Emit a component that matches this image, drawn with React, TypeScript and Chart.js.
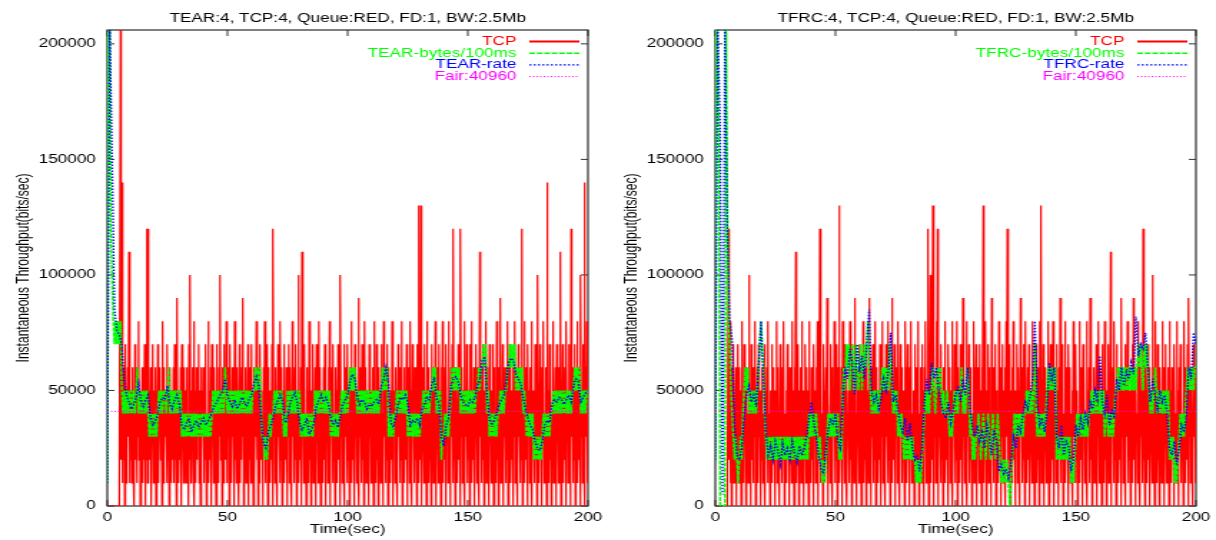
import React, { useEffect, useRef } from 'react';
import { Chart, registerables } from 'chart.js';

Chart.register(...registerables);

// ---- sampling / units ----
const TCP_STEP = 0.25; // seconds between TCP samples
const BYTES_STEP = 0.5; // seconds between bytes/100ms samples
const RATE_STEP = 1; // seconds between rate samples
const LEVEL = 10000; // bits/sec per unit in TCP and bytes arrays
const RATE_UNIT = 1000; // bits/sec per unit in rate arrays
const FAIR = 40960;
const X_MAX = 200;
const Y_MAX = 206000;
const X_TICKS = [0, 50, 100, 150, 200];
const Y_TICKS = [0, 50000, 100000, 150000, 200000];

const TITLE_TEAR = 'TEAR:4, TCP:4, Queue:RED, FD:1, BW:2.5Mb';
const TITLE_TFRC = 'TFRC:4, TCP:4, Queue:RED, FD:1, BW:2.5Mb';
const LEGEND_TEAR = ['TCP', 'TEAR-bytes/100ms', 'TEAR-rate', 'Fair:40960'];
const LEGEND_TFRC = ['TCP', 'TFRC-bytes/100ms', 'TFRC-rate', 'Fair:40960'];
const X_TITLE = 'Time(sec)';
const Y_TITLE = 'Instantaneous Throughput(bits/sec)';

// ---- left panel (TEAR) ----
const tcpTear = [
  0,0,0,0,0,0,0,0,0,0, 0,0,0,0,0,0,0,0,0,0, 0,0,21,2,14,1,5,2,6,0, 7,1,4,2,6,3,11,1,5,2,
  5,1,6,2,4,0,7,2,5,1, 6,3,8,2,5,0,4,2,6,1, 5,2,7,0,6,2,12,1,12,3, 5,2,6,0,4,3,7,1,5,2,
  6,0,5,2,7,1,4,3,6,2, 5,0,8,1,6,2,5,3,4,1, 7,2,5,0,6,3,4,1,5,2, 6,1,7,2,5,0,9,2,4,1,
  5,2,6,0,7,3,4,1,6,2, 5,1,6,3,4,0,7,2,10,1, 5,3,6,2,8,0,5,1,6,2, 4,3,7,1,5,0,6,2,5,3,
  6,1,5,2,7,0,4,3,8,1, 5,2,6,0,7,3,5,1,6,2, 4,0,7,2,5,1,6,3,10,2, 5,0,6,1,7,3,4,2,8,1,
  5,3,6,0,7,2,4,1,6,3, 5,0,8,2,5,1,6,3,4,0, 7,1,5,2,6,3,9,0,5,2, 6,1,4,3,7,0,5,2,6,1,
  7,2,5,0,6,1,4,3,8,2, 5,0,6,1,7,3,5,2,4,0, 6,3,8,1,5,2,7,0,6,3, 5,1,4,2,7,0,12,3,5,1,
  6,2,5,0,7,3,4,1,8,2, 6,0,5,3,7,1,4,2,6,0, 5,3,7,1,6,2,4,0,8,3, 5,1,6,2,7,0,5,3,10,1,
  5,2,6,0,11,3,5,1,7,2, 4,0,6,3,5,1,8,2,6,0, 5,3,7,1,4,2,6,0,7,3, 5,1,8,2,6,0,5,3,4,1,
  6,2,7,0,5,3,4,1,6,2, 8,0,5,3,6,1,7,2,4,0, 6,3,5,1,7,2,6,0,10,3, 5,1,4,2,7,0,6,3,5,1,
  7,2,5,0,6,3,8,1,5,2, 4,0,7,3,6,1,5,2,9,0, 6,3,4,1,7,2,5,0,8,3, 6,1,5,2,4,0,7,3,6,1,
  5,2,6,0,8,3,4,1,7,2, 5,0,6,3,5,1,7,2,4,0, 8,3,6,1,5,2,7,0,6,3, 4,1,5,2,8,0,6,3,5,1,
  6,2,4,0,7,3,5,1,6,2, 8,0,5,3,6,1,4,2,7,0, 5,3,6,1,8,2,5,0,7,3, 4,1,6,2,5,0,7,3,13,1,
  5,2,13,0,6,3,4,1,7,2, 5,0,8,3,6,1,5,2,4,0, 7,3,6,1,5,2,8,0,4,3, 6,1,7,2,5,0,6,3,8,1,
  5,2,6,0,7,3,4,1,8,2, 5,0,6,3,7,1,12,2,5,0, 6,3,4,1,7,2,5,0,12,3, 6,1,5,2,8,0,4,3,7,1,
  6,2,5,0,7,3,8,1,4,2, 6,0,5,3,7,1,6,2,4,0, 11,3,5,1,6,2,7,0,5,3, 8,1,6,2,4,0,7,3,5,1,
  5,2,7,0,6,3,4,1,8,2, 5,0,6,3,9,1,5,2,7,0, 4,3,6,1,5,2,8,0,6,3, 7,1,5,2,4,0,6,3,8,1,
  6,2,5,0,7,3,4,1,6,2, 12,0,5,3,8,1,6,2,4,0, 7,3,5,1,6,2,8,0,5,3, 4,1,7,2,6,0,10,3,5,1,
  7,2,5,0,6,3,8,1,4,2, 6,0,14,3,5,1,7,2,6,0, 4,3,8,1,5,2,6,0,7,3, 5,1,6,2,11,0,5,3,7,1,
  5,2,6,0,8,3,4,1,7,2, 5,0,12,3,6,1,4,2,7,0, 5,3,8,1,6,2,4,0,10,3, 5,1,7,2,14,0,6,3,8,1,
  5,
];

const bytesTear = [
  1,21,21,12,10,8,7,8,7,8,7,8,5,4,5,4,5,4,5,4,
  5,4,5,4,5,6,4,5,4,5,4,5,4,5,4,3,4,3,4,3,
  4,3,4,5,4,5,4,5,5,4,5,6,4,5,4,5,4,5,4,5,
  4,5,3,4,3,4,3,4,3,4,3,4,3,4,3,4,3,4,3,4,
  3,4,3,4,3,4,3,4,5,4,5,4,5,4,5,4,5,4,6,5,
  4,5,4,5,4,5,4,5,4,5,4,5,4,5,4,5,4,5,4,5,
  4,5,5,6,5,6,5,6,4,3,3,2,3,2,3,4,3,4,4,5,
  4,5,4,5,4,5,4,3,4,3,5,4,5,4,5,4,5,4,5,4,
  5,3,4,3,4,3,4,3,4,3,4,3,4,5,4,5,4,5,4,5,
  4,5,4,5,4,5,3,4,3,4,3,4,3,4,4,5,4,5,4,5,
  4,5,6,5,6,5,6,5,4,5,4,5,4,5,4,5,4,5,4,5,
  4,5,4,5,4,5,4,5,5,6,5,6,5,6,3,4,3,4,3,4,
  4,5,4,5,4,5,4,5,4,5,3,4,3,4,3,4,3,4,3,4,
  3,4,4,5,4,5,4,5,4,5,5,6,5,6,4,5,4,5,2,3,
  3,4,3,4,3,4,5,6,5,6,5,6,5,6,4,5,4,5,4,5,
  4,5,4,5,4,5,4,5,5,6,5,6,6,7,6,7,4,5,3,4,
  3,4,3,4,3,4,4,5,4,5,4,5,5,6,6,7,6,7,6,7,
  5,6,5,6,5,6,4,5,4,3,4,3,4,3,4,2,3,2,3,2,
  3,2,3,4,3,4,3,4,3,4,4,5,4,5,4,5,4,5,4,5,
  4,5,4,5,4,5,4,5,5,6,5,6,5,6,4,5,4,5,4,5,
  5,
];

const rateTear = [
  10,210,150,85,76,74,70,55,48,45,
  42,44,47,53,45,43,46,48,38,35,
  37,40,45,47,46,52,44,42,46,48,
  44,35,33,36,38,32,35,37,34,36,
  38,35,37,39,42,44,46,48,50,55,
  48,45,43,46,42,44,47,45,43,46,
  48,53,56,52,38,27,25,32,35,38,
  43,46,48,45,36,38,44,47,49,45,
  36,33,35,38,31,33,36,43,46,48,
  45,47,44,38,35,37,34,39,44,46,
  48,54,57,55,47,44,46,45,42,44,
  43,45,46,44,52,55,60,53,36,34,
  38,44,47,46,48,45,35,37,36,38,
  35,42,44,47,46,53,55,47,44,30,
  26,35,38,52,55,56,54,48,45,44,
  43,46,45,47,52,55,63,64,48,38,
  35,37,40,44,46,48,54,62,64,63,
  57,55,53,47,42,38,35,33,28,25,
  24,28,35,37,36,44,46,45,47,46,
  44,46,48,45,52,55,54,45,47,49,
  50,
];

// ---- right panel (TFRC) ----
const tcpTfrc = [
  0,0,0,0,0,0,0,0,0,0, 0,0,0,0,0,0,0,0,0,0, 0,0,12,2,8,1,5,0,6,3, 7,1,4,2,6,0,5,2,7,1,
  6,3,5,0,8,2,4,1,7,3, 5,0,6,2,4,1,10,3,5,0, 7,2,6,1,4,3,8,0,5,2, 6,1,7,3,4,0,5,2,6,1,
  4,2,7,0,5,3,6,1,8,2, 4,0,5,3,7,1,6,2,4,0, 5,3,8,1,6,2,4,0,7,3, 5,1,6,2,8,0,4,3,5,1,
  7,2,5,0,6,3,4,1,8,2, 5,0,6,3,11,1,4,2,7,0, 5,3,6,1,8,2,5,0,4,3, 7,1,6,2,5,0,8,3,4,1,
  6,2,4,0,7,3,5,1,6,2, 8,0,5,3,12,1,6,2,4,0, 7,3,5,1,6,2,9,0,5,3, 4,1,7,2,6,0,5,3,8,1,
  5,2,7,0,6,3,13,1,4,2, 6,0,8,3,5,1,7,2,6,0, 4,3,5,1,8,2,6,0,7,3, 5,1,9,2,4,0,6,3,5,1,
  7,2,6,0,5,3,8,1,4,2, 6,0,7,3,5,1,9,2,6,0, 4,3,7,1,5,2,8,0,6,3, 5,1,4,2,7,0,6,3,8,1,
  5,2,6,0,7,3,4,1,8,2, 5,0,6,3,9,1,5,2,7,0, 4,3,6,1,8,2,5,0,7,3, 6,1,5,2,4,0,8,3,6,1,
  7,2,5,0,6,3,8,1,4,2, 5,0,7,3,6,1,5,2,8,0, 4,3,6,1,7,2,5,0,6,3, 8,1,5,2,12,0,7,3,10,1,
  6,2,13,0,7,3,5,1,8,2, 12,0,6,3,4,1,7,2,5,0, 6,3,8,1,5,2,4,0,7,3, 6,1,5,2,8,0,4,3,7,1,
  5,2,8,0,6,3,4,1,7,2, 5,0,9,3,6,1,4,2,8,0, 5,3,7,1,6,2,5,0,4,3, 8,1,6,2,7,0,5,3,6,1,
  7,2,5,0,6,3,13,1,4,2, 8,0,5,3,7,1,6,2,4,0, 9,3,5,1,6,2,7,0,5,3, 4,1,8,2,6,0,5,3,7,1,
  5,2,6,0,8,3,12,1,4,2, 7,0,5,3,6,1,8,2,5,0, 4,3,7,1,6,2,5,0,9,3, 6,1,4,2,7,0,8,3,5,1,
  6,2,7,0,5,3,4,1,8,2, 6,0,5,3,7,1,4,2,6,0, 8,3,13,1,5,2,7,0,6,3, 4,1,5,2,8,0,6,3,7,1,
  5,2,8,0,6,3,4,1,7,2, 5,0,6,3,9,1,5,2,7,0, 4,3,8,1,6,2,5,0,7,3, 6,1,4,2,5,0,8,3,6,1,
  7,2,5,0,4,3,8,1,6,2, 5,0,7,3,6,1,4,2,8,0, 5,3,6,1,9,2,7,0,4,3, 6,1,5,2,7,0,5,3,8,1,
  6,2,4,0,7,3,5,1,8,2, 6,0,5,3,7,1,4,2,11,0, 5,3,6,1,8,2,5,0,7,3, 4,1,6,2,5,0,9,3,6,1,
  5,2,7,0,6,3,8,1,4,2, 5,0,6,3,7,1,9,2,5,0, 6,3,4,1,8,2,7,0,5,3, 6,1,12,2,4,0,7,3,5,1,
  7,2,6,0,5,3,4,1,10,2, 6,0,8,3,5,1,7,2,4,0, 6,3,5,1,8,2,6,0,4,3, 7,1,5,2,6,0,8,3,5,1,
  6,2,5,0,7,3,4,1,8,2, 5,0,6,3,7,1,5,2,4,0, 8,3,6,1,5,2,7,0,9,3, 5,1,6,2,4,0,7,3,6,1,
  3,
];

const bytesTfrc = [
  2,21,19,16,0,0,0,0,0,21,13,8,7,5,4,3,2,3,2,1,
  2,3,2,4,5,6,5,6,4,5,4,5,4,5,4,5,6,7,8,7,
  6,4,3,2,3,2,3,2,3,2,3,2,3,2,3,2,3,2,3,2,
  3,2,3,2,3,2,3,2,3,2,3,2,3,2,3,2,3,2,4,3,
  4,3,4,3,4,3,2,3,2,1,2,1,2,3,4,3,4,3,4,3,
  4,3,4,2,3,2,5,6,5,7,6,7,5,6,7,6,5,7,6,5,
  6,7,5,6,7,6,7,8,6,5,4,5,4,5,4,5,4,5,5,6,
  5,6,5,6,5,7,6,5,4,5,4,5,3,4,3,4,3,2,3,2,
  3,2,3,2,3,2,2,1,2,1,2,1,2,3,4,5,4,5,4,5,
  5,6,5,4,5,6,5,6,5,4,5,4,4,5,4,3,4,3,4,5,
  4,5,4,5,5,6,4,5,4,5,6,5,3,4,2,3,2,3,3,4,
  3,2,3,4,3,2,3,4,3,2,3,4,3,2,3,4,3,2,1,2,
  1,2,1,2,1,0,1,2,3,4,3,4,3,4,3,4,3,4,4,5,
  4,5,4,5,4,5,7,4,3,4,3,4,3,4,3,4,5,6,5,6,
  5,6,5,6,2,3,2,3,2,3,2,3,2,3,2,3,1,2,1,2,
  3,4,3,4,3,4,3,4,3,4,3,4,4,5,4,5,4,5,4,5,
  4,5,4,5,3,4,4,3,4,3,4,3,4,5,5,6,5,6,5,6,
  5,6,5,6,5,6,5,6,5,6,5,6,7,6,7,6,5,7,6,7,
  6,5,4,5,4,5,6,5,4,5,4,5,4,5,4,5,4,5,2,3,
  2,3,1,2,1,2,3,4,3,4,3,4,5,6,5,6,5,6,5,6,
  6,
];

const rateTfrc = [
  20,210,165,5,210,120,80,72,35,22,
  20,25,38,48,52,45,48,43,60,80,
  55,33,22,26,20,28,24,18,27,22,
  25,20,28,23,19,26,22,25,30,38,
  45,36,30,22,16,14,25,33,38,35,
  40,28,25,45,60,55,68,62,48,70,
  58,65,55,70,85,50,45,48,42,46,
  55,50,58,75,45,48,42,35,32,38,
  28,36,25,20,22,15,25,45,55,48,
  62,55,60,50,44,40,38,45,36,42,
  48,52,45,55,48,60,42,34,30,35,
  28,32,25,35,30,22,33,28,15,18,
  14,16,12,18,30,25,35,32,40,45,
  42,48,55,80,45,35,38,32,40,62,
  55,60,30,25,35,22,28,26,15,20,
  35,30,38,33,40,36,45,42,50,46,
  65,45,40,48,35,42,38,55,50,60,
  52,58,55,62,57,82,65,70,68,75,
  60,45,55,48,42,50,45,48,40,25,
  22,28,18,25,35,32,38,60,55,75,
  70,
];

// ---- styling ----
const FONT = '"Liberation Sans", Arial, Helvetica, sans-serif';
const CANVAS_W = 425; // drawn narrow, displayed stretched like the gnuplot output
const CANVAS_H = 540;
const DISPLAY_W = 608;
const COLORS = ['#ff0000', '#00ff00', '#0000ff', '#ff00ff'];
const DASHES: number[][] = [[], [4, 1.2], [1.5, 1.5], [1, 1.5]];
const WIDTHS = [1.2, 1.5, 1.3, 1];
const LEGEND_WIDTHS = [1.8, 1.5, 1.3, 1];

const series = (vals: number[], step: number, unit: number) =>
  vals.map((v, i) => ({ x: i * step, y: v * unit }));

const framePlugin = {
  id: 'gpFrame',
  beforeDatasetsDraw(chart: any) {
    const { ctx, chartArea: a, scales } = chart;
    ctx.save();
    ctx.strokeStyle = '#000';
    ctx.lineWidth = 1;
    ctx.strokeRect(a.left, a.top, a.right - a.left, a.bottom - a.top);
    ctx.strokeStyle = '#333';
    const seg = (x1: number, y1: number, x2: number, y2: number) => {
      ctx.beginPath();
      ctx.moveTo(x1, y1);
      ctx.lineTo(x2, y2);
      ctx.stroke();
    };
    for (const v of Y_TICKS) {
      const y = scales.y.getPixelForValue(v);
      seg(a.left, y, a.left + 5, y);
      seg(a.right - 5, y, a.right, y);
    }
    for (const v of X_TICKS) {
      const x = scales.x.getPixelForValue(v);
      seg(x, a.bottom, x, a.bottom - 6);
      seg(x, a.top, x, a.top + 6);
    }
    ctx.restore();
  },
};

const legendPlugin = {
  id: 'gpLegend',
  afterDatasetsDraw(chart: any, _args: any, opts: any) {
    const { ctx } = chart;
    const names: string[] = opts.names || [];
    names.forEach((name, i) => {
      const y = 41.5 + i * 11.7;
      ctx.save();
      ctx.font = `12px ${FONT}`;
      ctx.textAlign = 'right';
      ctx.textBaseline = 'middle';
      ctx.fillStyle = COLORS[i];
      ctx.fillText(name, 361, y);
      ctx.setLineDash(DASHES[i]);
      ctx.lineWidth = LEGEND_WIDTHS[i];
      ctx.strokeStyle = COLORS[i];
      ctx.beginPath();
      ctx.moveTo(370, y);
      ctx.lineTo(405, y);
      ctx.stroke();
      ctx.restore();
    });
  },
};

type PanelProps = {
  title: string;
  names: string[];
  tcp: number[];
  bytes: number[];
  rate: number[];
};

function Panel({ title, names, tcp, bytes, rate }: PanelProps) {
  const ref = useRef<HTMLCanvasElement>(null);
  useEffect(() => {
    const canvas = ref.current;
    if (!canvas) return;
    const data = [
      series(tcp, TCP_STEP, LEVEL),
      series(bytes, BYTES_STEP, LEVEL),
      series(rate, RATE_STEP, RATE_UNIT),
      [
        { x: 0, y: FAIR },
        { x: X_MAX, y: FAIR },
      ],
    ];
    const chart = new Chart(canvas, {
      type: 'line',
      data: {
        datasets: data.map((d, i) => ({
          label: names[i],
          data: d,
          borderColor: COLORS[i],
          backgroundColor: COLORS[i],
          borderWidth: WIDTHS[i],
          borderDash: DASHES[i],
          pointRadius: 0,
          tension: 0,
          fill: false,
          order: 4 - i,
        })),
      },
      options: {
        responsive: false,
        devicePixelRatio: 1,
        animation: false,
        events: [],
        layout: { padding: { left: 0, right: 10.5, top: 0, bottom: 0 } },
        plugins: {
          legend: { display: false },
          tooltip: { enabled: false },
          title: {
            display: true,
            text: title,
            fullSize: false,
            color: '#000',
            font: { family: FONT, size: 12, weight: 'normal' },
            padding: { top: 11, bottom: 4.6 },
          },
          gpLegend: { names },
        } as any,
        scales: {
          x: {
            type: 'linear',
            min: 0,
            max: X_MAX,
            afterFit: (s: any) => {
              s.height = 34;
            },
            afterBuildTicks: (s: any) => {
              s.ticks = X_TICKS.map((v) => ({ value: v }));
            },
            grid: { display: false, drawTicks: false },
            border: { display: false },
            ticks: {
              color: '#000',
              font: { family: FONT, size: 12 },
              padding: 4,
              maxRotation: 0,
              autoSkip: false,
              callback: (v: any) => String(v),
            },
            title: {
              display: true,
              text: X_TITLE,
              color: '#000',
              font: { family: FONT, size: 12 },
              padding: { top: 0, bottom: 3 },
            },
          },
          y: {
            type: 'linear',
            min: 0,
            max: Y_MAX,
            afterFit: (s: any) => {
              s.width = 75;
            },
            afterBuildTicks: (s: any) => {
              s.ticks = Y_TICKS.map((v) => ({ value: v }));
            },
            grid: { display: false, drawTicks: false },
            border: { display: false },
            ticks: {
              color: '#000',
              font: { family: FONT, size: 12 },
              padding: 8,
              autoSkip: false,
              callback: (v: any) => String(v),
            },
            title: {
              display: true,
              text: Y_TITLE,
              color: '#000',
              font: { family: FONT, size: 12 },
              padding: { top: 9.5, bottom: 0 },
            },
          },
        },
      },
      plugins: [framePlugin, legendPlugin],
    } as any);
    return () => chart.destroy();
  }, [title, names, tcp, bytes, rate]);

  return (
    <canvas
      ref={ref}
      width={CANVAS_W}
      height={CANVAS_H}
      style={{ width: `${DISPLAY_W}px`, height: `${CANVAS_H}px`, display: 'block' }}
    />
  );
}

export default function App() {
  return (
    <div
      style={{
        position: 'absolute',
        left: 0,
        top: 0,
        width: 1216,
        height: 540,
        display: 'flex',
        background: '#fff',
      }}
    >
      <Panel title={TITLE_TEAR} names={LEGEND_TEAR} tcp={tcpTear} bytes={bytesTear} rate={rateTear} />
      <Panel title={TITLE_TFRC} names={LEGEND_TFRC} tcp={tcpTfrc} bytes={bytesTfrc} rate={rateTfrc} />
    </div>
  );
}
